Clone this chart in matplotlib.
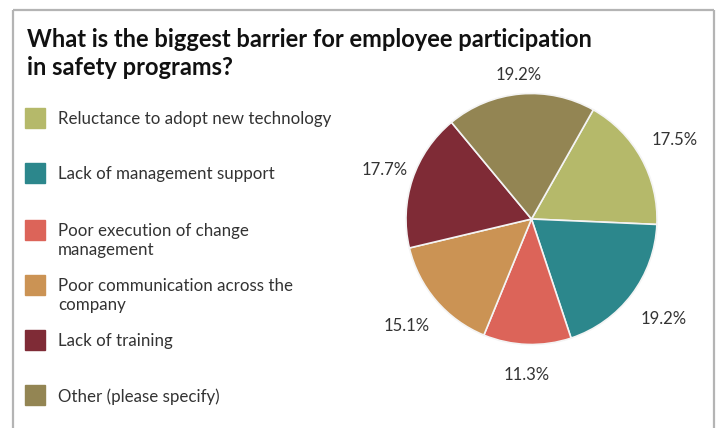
import numpy as np
import matplotlib.pyplot as plt
from matplotlib.patches import Rectangle

# data
categories = ["Reluctance to adopt new technology",
              "Lack of management support",
              "Poor execution of change\nmanagement",
              "Poor communication across the\ncompany",
              "Lack of training",
              "Other (please specify)"]
shares = [17.5, 19.2, 11.3, 15.1, 17.7, 19.2]
colors = ["#b5b96a", "#2c878c", "#dc6459", "#cb9354", "#7f2b36", "#938553"]

# how far out each percentage sits (in pie radii), like Excel's outside-end placement
label_r = [1.30, 1.32, 1.24, 1.31, 1.23, 1.15]

W, H = 717, 428
fig = plt.figure(figsize=(W / 100, H / 100), dpi=100)
fig.patch.set_facecolor("white")


def fx(px):
    return px / W


def fy(py):
    return 1 - py / H


# grey frame, open at the bottom
frame = dict(color="#b4b4b4", lw=1.6, solid_capstyle="butt")
fig.add_artist(plt.Line2D([fx(13), fx(13)], [fy(10), 0], **frame))
fig.add_artist(plt.Line2D([fx(13), fx(714)], [fy(10), fy(10)], **frame))
fig.add_artist(plt.Line2D([fx(714), fx(714)], [fy(10), 0], **frame))

fig.text(fx(27), fy(47), "What is the biggest barrier for employee participation",
         fontsize=17, fontweight="bold", family="Lato", va="baseline", ha="left", color="#111111")
fig.text(fx(27), fy(75), "in safety programs?",
         fontsize=17, fontweight="bold", family="Lato", va="baseline", ha="left", color="#111111")

# legend
leg_y = [118, 173, 230, 285, 340, 395]
for lab, col, yy in zip(categories, colors, leg_y):
    fig.add_artist(Rectangle((fx(25), fy(yy + 10)), 20 / W, 20 / H,
                             color=col, transform=fig.transFigure))
    fig.text(fx(58), fy(yy - 7), lab, fontsize=12.2, family="Lato",
             va="top", ha="left", color="#333333", linespacing=1.25)

# pie
r = 125.5
cx, cy = 531.5, 219
ax = fig.add_axes([fx(cx - r), fy(cy + r), 2 * r / W, 2 * r / H])
wedges, _ = ax.pie(shares, colors=colors, startangle=60.5, counterclock=False,
                   wedgeprops=dict(edgecolor="#f4f4f4", linewidth=1.2))
ax.set_xlim(-1, 1)
ax.set_ylim(-1, 1)
ax.set_aspect("equal")

for w, v, d in zip(wedges, shares, label_r):
    mid = np.deg2rad((w.theta1 + w.theta2) / 2)
    ax.text(d * np.cos(mid), d * np.sin(mid), f"{v:.1f}%", ha="center", va="center",
            fontsize=12, family="Lato", color="#333333", clip_on=False)

fig.savefig("out.png", dpi=100)
